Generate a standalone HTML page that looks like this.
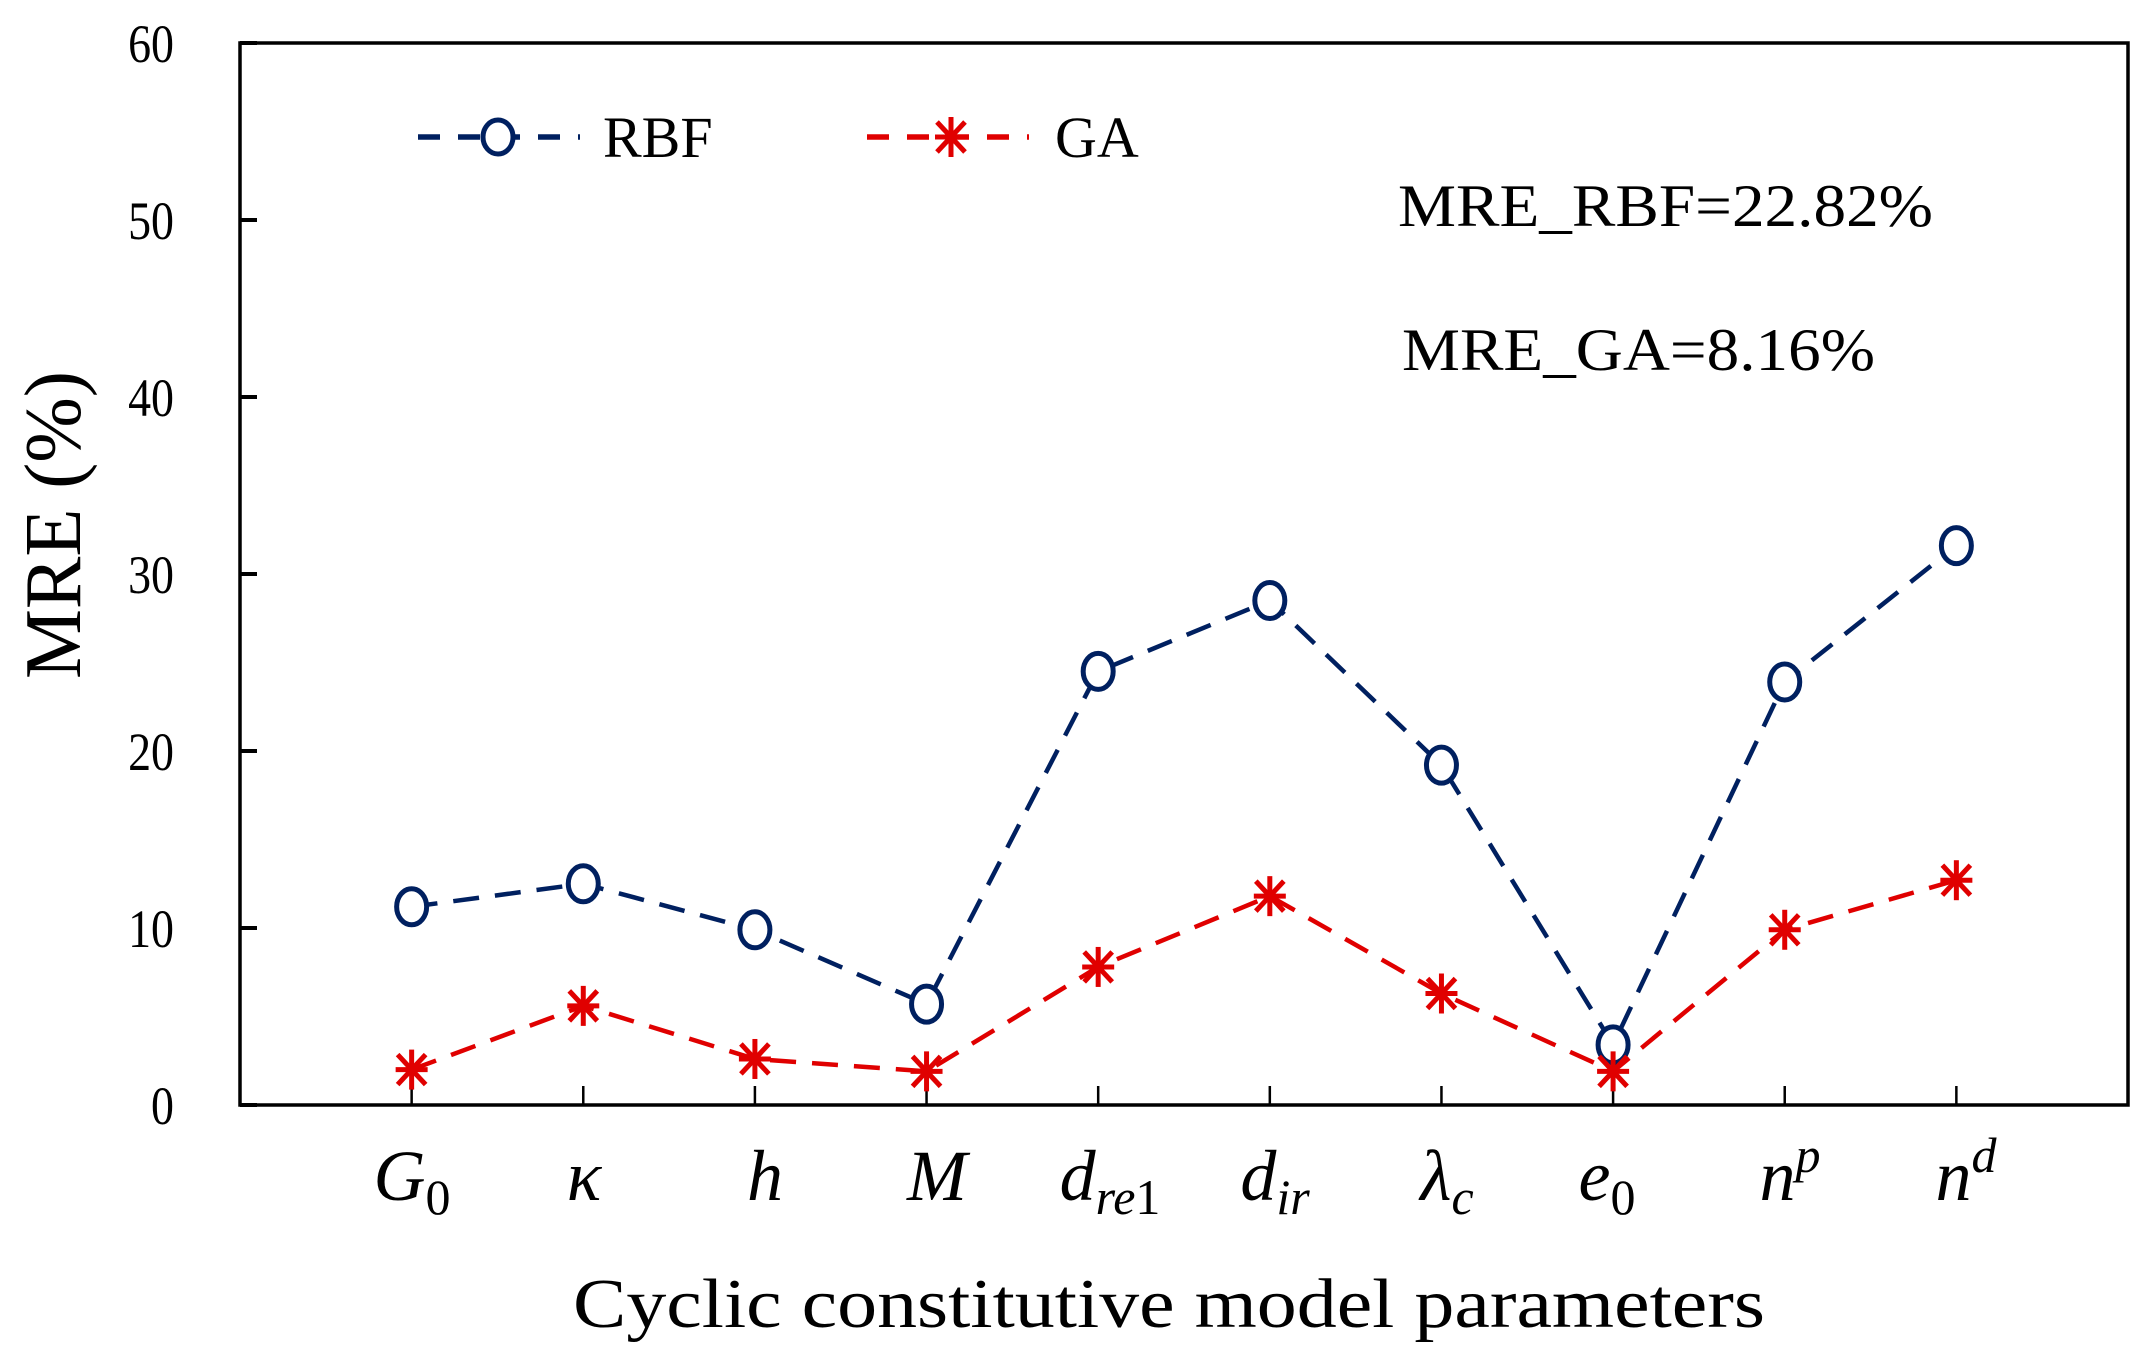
<!DOCTYPE html>
<html><head><meta charset="utf-8"><style>
html,body{margin:0;padding:0;background:#fff;}
svg{display:block;}
text{font-family:"Liberation Serif",serif;fill:#000;}
</style></head><body>
<svg id="chart" width="2150" height="1357" viewBox="0 0 2150 1357" xmlns="http://www.w3.org/2000/svg">
<g id="axes"></g>
<g id="series"></g>
<g>
  <line x1="418" y1="137" x2="580" y2="137" stroke="#002060" stroke-width="5.5" stroke-dasharray="22,18"/>
  <ellipse cx="498" cy="137" rx="15" ry="17" fill="#fff" stroke="#002060" stroke-width="5"/>
  <text x="603" y="157" font-size="58">RBF</text>
  <line x1="867" y1="137" x2="1029" y2="137" stroke="#e00000" stroke-width="5.5" stroke-dasharray="22,18"/>
  <g id="legstar"></g>
  <text x="1055" y="157" font-size="58">GA</text>
</g>
<text x="1398" y="226" font-size="60" textLength="535" lengthAdjust="spacingAndGlyphs">MRE_RBF=22.82%</text>
<text x="1402" y="370" font-size="60" textLength="473" lengthAdjust="spacingAndGlyphs">MRE_GA=8.16%</text>
<text transform="translate(80,525) rotate(-90)" text-anchor="middle" font-size="80" textLength="308" lengthAdjust="spacingAndGlyphs">MRE (%)</text>
<text x="1169" y="1327" text-anchor="middle" font-size="70" textLength="1192" lengthAdjust="spacingAndGlyphs">Cyclic  constitutive model parameters</text>
<g font-style="italic" font-size="72">
  <text x="412" y="1200" text-anchor="middle">G<tspan font-style="normal" font-size="50" dy="14">0</tspan></text>
  <text x="584" y="1200" text-anchor="middle">κ</text>
  <text x="765" y="1200" text-anchor="middle">h</text>
  <text x="937" y="1200" text-anchor="middle">M</text>
  <text x="1110" y="1200" text-anchor="middle">d<tspan font-size="50" dy="14">re</tspan><tspan font-style="normal" font-size="50">1</tspan></text>
  <text x="1275" y="1200" text-anchor="middle">d<tspan font-size="50" dy="14">ir</tspan></text>
  <text x="1447" y="1200" text-anchor="middle">λ<tspan font-size="50" dy="14">c</tspan></text>
  <text x="1607" y="1200" text-anchor="middle">e<tspan font-style="normal" font-size="50" dy="14">0</tspan></text>
  <text x="1790" y="1200" text-anchor="middle">n<tspan font-size="50" dy="-28">p</tspan></text>
  <text x="1966" y="1200" text-anchor="middle">n<tspan font-size="50" dy="-28">d</tspan></text>
</g>
</svg>
<script>
const categories = ["G0","kappa","h","M","dre1","dir","lambda_c","e0","np","nd"];
const rbfValues = [11.2, 12.5, 9.9, 5.7, 24.5, 28.5, 19.2, 3.4, 23.9, 31.6];
const gaValues = [2.0, 5.6, 2.6, 1.9, 7.8, 11.8, 6.3, 1.9, 9.9, 12.7];
const yTicks = [0, 10, 20, 30, 40, 50, 60];

const NS = "http://www.w3.org/2000/svg";
const L = 240, R = 2128, T = 43, B = 1105, YMAX = 60;
const slot = (R - L) / (categories.length + 1);
function xScale(i){ return L + slot * (i + 1); }
function yScale(v){ return B - (v / YMAX) * (B - T); }
function mk(tag, attrs, parent){ const e = document.createElementNS(NS, tag); for (const k in attrs) e.setAttribute(k, attrs[k]); parent.appendChild(e); return e; }

const axes = document.getElementById("axes");
const frame = mk("rect", {x:L, y:T, width:R-L, height:B-T, fill:"none", stroke:"#000", "stroke-width":3.5}, axes);


yTicks.forEach(t => {
  const y = yScale(t);
  const tk = mk("line", {x1:L, y1:y, x2:L+17, y2:y, stroke:"#000", "stroke-width":4}, axes);
  
  
  const lb = mk("text", {x:174, y:y+19, "text-anchor":"end", "font-size":54, transform:"translate(174," + (y+19) + ") scale(0.85,1) translate(-174," + (-(y+19)) + ")"}, axes);
  lb.textContent = t;
  
  
});
categories.forEach((c, i) => {
  const x = xScale(i);
  const tk = mk("line", {x1:x, y1:B, x2:x, y2:B-19, stroke:"#000", "stroke-width":2.5}, axes);
  
  
});

const series = document.getElementById("series");
function star(g, cx, cy, color){
  const s = 20;
  [[0,-s,0,s],[-s*0.7,-s*0.75,s*0.7,s*0.75],[-s*0.7,s*0.75,s*0.7,-s*0.75],[-s*0.8,0,s*0.8,0]].forEach(d => {
    const ln = mk("line", {x1:cx+d[0], y1:cy+d[1], x2:cx+d[2], y2:cy+d[3], stroke:color, "stroke-width":5}, g);
    
    
  });
}
function drawSeries(vals, color, name, marker){
  const pts = vals.map((v, i) => xScale(i) + "," + yScale(v)).join(" ");
  const pl = mk("polyline", {points:pts, fill:"none", stroke:color, "stroke-width":4.5, "stroke-dasharray":"26,16"}, series);
  
  
  vals.forEach((v, i) => {
    const g = mk("g", {}, series);
    
    
    if (marker === "circle") {
      mk("ellipse", {cx:xScale(i), cy:yScale(v), rx:15, ry:18, fill:"#fff", stroke:color, "stroke-width":5}, g);
    } else {
      star(g, xScale(i), yScale(v), color);
    }
  });
}
drawSeries(rbfValues, "#002060", "rbf", "circle");
drawSeries(gaValues, "#e00000", "ga", "star");
star(document.getElementById("legstar"), 951, 137, "#e00000");
</script>
</body></html>
